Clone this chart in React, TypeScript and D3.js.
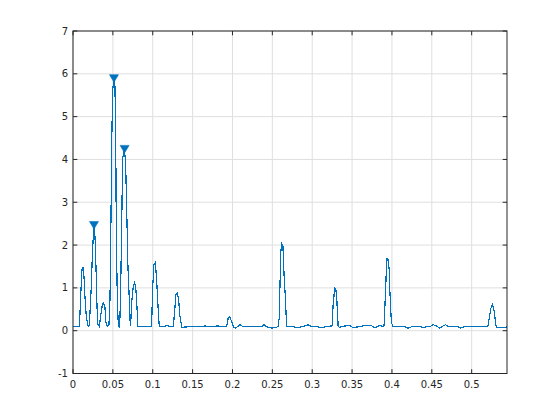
import React from "react";
import * as d3 from "d3";

const freq = [
  0, 0.0079, 0.0088, 0.01, 0.0113, 0.0125, 0.0138, 0.015, 0.0163, 0.018, 0.0192,
  0.0205, 0.0217, 0.023, 0.0242, 0.0255, 0.0263, 0.0276, 0.0288, 0.0301, 0.0313,
  0.033, 0.0347, 0.0368, 0.0384, 0.0401, 0.0414, 0.043, 0.0451, 0.0464, 0.0476,
  0.0489, 0.0501, 0.0514, 0.0526, 0.0535, 0.0543, 0.0556, 0.0568, 0.0585, 0.0597,
  0.061, 0.0622, 0.0635, 0.0647, 0.066, 0.0672, 0.0689, 0.0706, 0.0718, 0.0722,
  0.0735, 0.0756, 0.0773, 0.0789, 0.0802, 0.0814, 0.0986, 0.0998, 0.1015, 0.1032,
  0.1048, 0.1065, 0.1082, 0.115, 0.118, 0.121, 0.1257, 0.1274, 0.1291, 0.1307,
  0.1324, 0.1341, 0.1366, 0.145, 0.155, 0.16, 0.1654, 0.172, 0.18, 0.1926, 0.1947,
  0.1967, 0.1988, 0.2013, 0.2038, 0.2093, 0.2134, 0.2239, 0.2364, 0.2398, 0.2431,
  0.2498, 0.2552, 0.2573, 0.2586, 0.2598, 0.2607, 0.2619, 0.2632, 0.2648, 0.2665,
  0.2678, 0.274, 0.2824, 0.2885, 0.295, 0.2991, 0.3054, 0.3116, 0.3179, 0.3241,
  0.325, 0.3262, 0.3283, 0.3296, 0.3308, 0.3325, 0.3342, 0.3367, 0.3471, 0.3513,
  0.3576, 0.3659, 0.3743, 0.3784, 0.3847, 0.3889, 0.3901, 0.3918, 0.3931, 0.3939,
  0.3951, 0.3964, 0.3976, 0.3993, 0.4014, 0.4098, 0.4148, 0.4202, 0.4244, 0.4369,
  0.4398, 0.4432, 0.4474, 0.4515, 0.4549, 0.4599, 0.4641, 0.4674, 0.4716, 0.4829,
  0.4858, 0.49, 0.5142, 0.5192, 0.5205, 0.5226, 0.5242, 0.5259, 0.5276, 0.5292,
  0.5309, 0.54, 0.5443,
];

const magnitude = [
  0.1, 0.1, 0.42, 0.96, 1.43, 1.47, 1.27, 0.8, 0.42, 0.18, 0.1,
  0.14, 0.57, 1.04, 1.74, 2.2, 2.42, 2.2, 1.5, 0.57, 0.14,
  0.1, 0.34, 0.61, 0.65, 0.54, 0.18, 0.1, 0.14, 0.73, 2.59,
  4.77, 5.7, 5.85, 5.7, 4.77, 2.28, 0.73, 0.14, 0.07, 0.88,
  2.36, 3.99, 4.18, 4.2, 3.91, 2.98, 1.5, 0.73, 0.14, 0.1,
  0.65, 1.04, 1.12, 0.96, 0.57, 0.1, 0.1, 0.96, 1.54, 1.59,
  1.23, 0.61, 0.1, 0.1, 0.12, 0.1, 0.1, 0.42, 0.85, 0.88,
  0.75, 0.34, 0.08, 0.09, 0.1, 0.09, 0.11, 0.09, 0.11, 0.1, 0.3,
  0.32, 0.22, 0.09, 0.06, 0.14, 0.09, 0.09, 0.09, 0.14, 0.09,
  0.06, 0.08, 0.1, 0.3, 1.23, 1.85, 2.03, 2.0, 1.27, 0.73,
  0.105, 0.1, 0.07, 0.1, 0.14, 0.1, 0.1, 0.07, 0.1, 0.11,
  0.12, 0.6, 1.0, 0.98, 0.75, 0.12, 0.07, 0.1, 0.12, 0.07,
  0.09, 0.12, 0.12, 0.07, 0.12, 0.1, 0.12, 0.84, 1.47, 1.68,
  1.66, 1.47, 0.84, 0.2, 0.09, 0.1, 0.1, 0.06, 0.09, 0.09,
  0.07, 0.09, 0.09, 0.14, 0.12, 0.06, 0.11, 0.14, 0.09, 0.09,
  0.06, 0.09, 0.09, 0.1, 0.12, 0.35, 0.53, 0.61, 0.53, 0.3,
  0.07, 0.07, 0.09,
];

const peakFreq = [0.0263, 0.0514, 0.0647];
const peakMag = [2.42, 5.85, 4.2];

const xTicks = [0, 0.05, 0.1, 0.15, 0.2, 0.25, 0.3, 0.35, 0.4, 0.45, 0.5];
const yTicks = [-1, 0, 1, 2, 3, 4, 5, 6, 7];

const W = 560;
const H = 420;
const left = 73;
const right = 507;
const top = 31;
const bottom = 373.5;
const blue = "#0072BD";
const axisColor = "#262626";
const gridColor = "#dfdfdf";
const font = "DejaVu Sans, sans-serif";

export default function App() {
  const x = d3.scaleLinear().domain([0, 0.5443]).range([left, right]);
  const y = d3.scaleLinear().domain([-1, 7]).range([bottom, top]);
  const pts: [number, number][] = freq.map((f, i) => [f, magnitude[i]]);
  const line = d3
    .line<[number, number]>()
    .x((d) => x(d[0]))
    .y((d) => y(d[1]));
  const fmt = (v: number) => String(v);
  const tick = 4.3;

  return (
    <svg
      width={W}
      height={H}
      style={{ position: "absolute", left: 0, top: 0, background: "#fff" }}
    >
      <rect x={0} y={0} width={W} height={H} fill="#fff" />
      <rect x={left} y={top} width={right - left} height={bottom - top} fill="#fff" />
      {xTicks.map((t) => (
        <line key={"gx" + t} x1={x(t)} x2={x(t)} y1={top} y2={bottom} stroke={gridColor} strokeWidth={1} />
      ))}
      {yTicks.map((t) => (
        <line key={"gy" + t} x1={left} x2={right} y1={y(t)} y2={y(t)} stroke={gridColor} strokeWidth={1} />
      ))}
      <path
        d={line(pts) || ""}
        fill="none"
        stroke={blue}
        strokeWidth={1.2}
        shapeRendering="crispEdges"
      />
      {peakFreq.map((f, i) => {
        const cx = x(f);
        const cy = y(peakMag[i]);
        const t0 = cy - 5.5;
        return (
          <path
            key={"pk" + i}
            d={`M${cx - 4.5},${t0} L${cx + 4.5},${t0} L${cx},${t0 + 7.5} Z`}
            fill={blue}
            stroke={blue}
            strokeWidth={0.6}
          />
        );
      })}
      <rect x={left} y={top} width={right - left} height={bottom - top} fill="none" stroke={axisColor} strokeWidth={1} />
      {xTicks.map((t) => (
        <g key={"tx" + t}>
          <line x1={x(t)} x2={x(t)} y1={bottom} y2={bottom - tick} stroke={axisColor} />
          <line x1={x(t)} x2={x(t)} y1={top} y2={top + tick} stroke={axisColor} />
          <text x={x(t)} y={388} textAnchor="middle" fontFamily={font} fontSize={10} fill={axisColor}>
            {fmt(t)}
          </text>
        </g>
      ))}
      {yTicks.map((t) => (
        <g key={"ty" + t}>
          <line x1={left} x2={left + tick} y1={y(t)} y2={y(t)} stroke={axisColor} />
          <line x1={right} x2={right - tick} y1={y(t)} y2={y(t)} stroke={axisColor} />
          <text x={68} y={y(t) + 3.6} textAnchor="end" fontFamily={font} fontSize={10} fill={axisColor}>
            {fmt(t)}
          </text>
        </g>
      ))}
    </svg>
  );
}
